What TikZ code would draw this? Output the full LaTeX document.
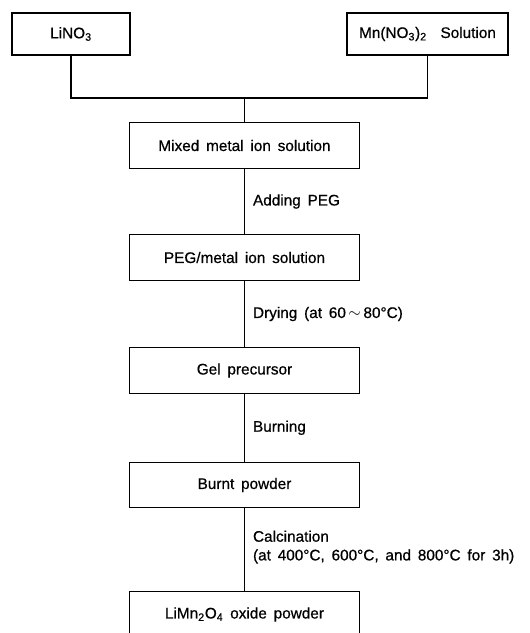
\documentclass[tikz,border=0pt]{standalone}
\usepackage{fontspec}
\setmainfont{Liberation Sans}[WordSpace=1.6, FakeBold=0.6]
\usetikzlibrary{positioning,calc}
\tikzset{
	procbox/.style={draw, minimum width=173pt, minimum height=34pt, inner sep=2pt, outer sep=0},
	steplabel/.style={align=left, inner sep=0pt},
}
\newcommand{\chem}[1]{\textsubscript{#1}}

\begin{document}
\begin{tikzpicture}[x=0.75pt, y=-0.75pt, line width=0.8pt,
				font=\fontsize{11.5}{14}\selectfont]
	\clip (0,0) rectangle (530,633);
	% starting materials
	\node[procbox, minimum width=88.5pt, minimum height=31.5pt] (lino) at (71,34) {LiNO\chem{3}};
	\node[procbox, minimum width=120.75pt, minimum height=31.5pt] (mnno) at (427.5,34) {Mn(NO\chem{3})\chem{2}\ \ Solution};
	% process steps
	\node[procbox] (mixed) at (244.5,145.5) {Mixed metal ion solution};
	\node[procbox] (peg) at (244.5,257.5) {PEG/metal ion solution};
	\node[procbox] (gel) at (244.5,370.5) {Gel precursor};
	\node[procbox] (burnt) at (244.5,485) {Burnt powder};
	\node[procbox] (final) at (244.5,614.5) {LiMn\chem{2}O\chem{4} oxide powder};
	
	\coordinate (join) at (244.5,98);
	\draw (lino.south) |- (join) -| (mnno.south);
	\draw (join) -- (mixed.north);
	
	\path (mixed.south) edge node[steplabel, right=6pt] {Adding PEG} (peg.north);
	\path (peg.south) edge node[steplabel, right=6pt] {Drying (at 60\,$\sim$\,80°C)} (gel.north);
	\path (gel.south) edge node[steplabel, right=6pt] {Burning} (burnt.north);
	\path (burnt.south) edge node[steplabel, right=6pt, yshift=2pt] {Calcination\\(at 400°C, 600°C, and 800°C for 3h)} (final.north);
\end{tikzpicture}
\end{document}
